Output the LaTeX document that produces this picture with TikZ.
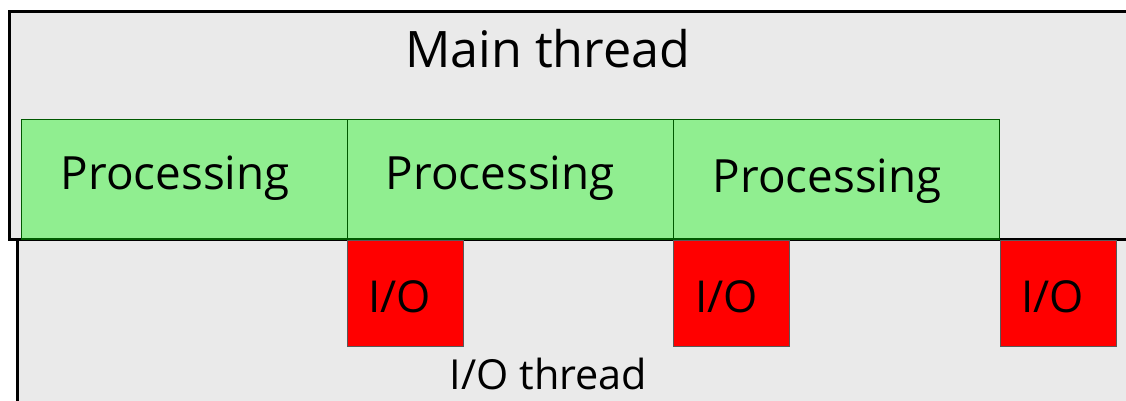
\documentclass[tikz,border=0pt]{standalone}
\usepackage{fontspec}
\setmainfont{Open Sans}
\definecolor{bg}{HTML}{EAEAEA}
\definecolor{procgreen}{HTML}{90EE90}
\definecolor{iored}{HTML}{FF0000}
\tikzset{
  thread/.style={draw=black, fill=bg, line width=3pt},
  procbox/.style={draw=green!35!black, fill=procgreen, line width=0.8pt, minimum width=326pt, minimum height=120pt, anchor=north west, inner sep=0pt, outer sep=0pt},
  iobox/.style={draw=black!65, fill=iored, line width=0.8pt, minimum width=116pt, minimum height=106pt, anchor=north west, inner sep=0pt, outer sep=0pt},
  lbl/.style={anchor=base west, inner sep=0pt, text=black},
}
\begin{document}
\begin{tikzpicture}[x=1pt, y=-1pt]
\useasboundingbox (0,0) rectangle (1126,400);
\clip (0,0) rectangle (1126,400);
\fill[white] (0,0) rectangle (1126,400);
% I/O thread box
\draw[thread] (17.5,239.5) rectangle (1140,420);
% Main thread box
\draw[thread] (9.5,11.5) rectangle (1140,239.5);
\node[lbl, font=\fontsize{50.3}{60}\selectfont] (mainlbl) at (405,67) {Main thread};
% processing boxes
\node[procbox] (p1) at (21,119) {};
\node[procbox] (p2) at (347,119) {};
\node[procbox] (p3) at (673,119) {};
\draw[green!35!black, line width=1.5pt] (p1.south west) -- (p3.south east);
\node[lbl, font=\fontsize{45.8}{55}\selectfont] (t1) at (60.5,189) {Processing};
\node[lbl, font=\fontsize{45.8}{55}\selectfont] (t2) at (385.5,189) {Processing};
\node[lbl, font=\fontsize{45.8}{55}\selectfont] (t3) at (712.5,192) {Processing};
% I/O boxes
\node[iobox] (io1) at (347,240) {};
\node[iobox] (io2) at (673,240) {};
\node[iobox] (io3) at (1000,240) {};
\node[lbl, font=\fontsize{44}{53}\selectfont] (l1) at (368,312) {I/O};
\node[lbl, font=\fontsize{44}{53}\selectfont] (l2) at (695,312) {I/O};
\node[lbl, font=\fontsize{44}{53}\selectfont] (l3) at (1021,312) {I/O};
\node[lbl, font=\fontsize{41.4}{49}\selectfont] (iolbl) at (449.5,389) {I/O thread};
\end{tikzpicture}
\end{document}
